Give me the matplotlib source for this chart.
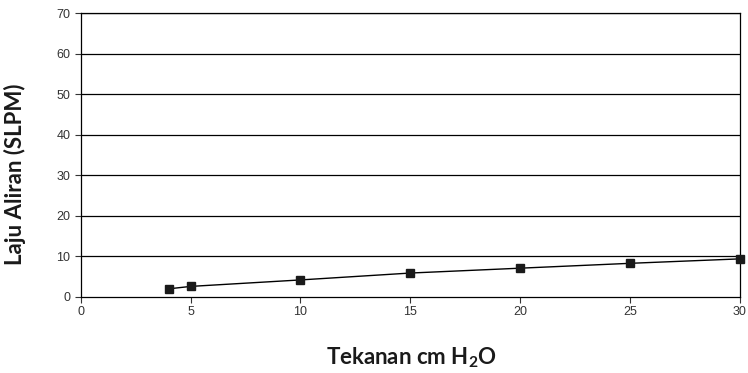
import matplotlib
matplotlib.use('Agg')
import matplotlib.pyplot as plt

# values
tekanan = [4, 5, 10, 15, 20, 25, 30]
laju = [1.9, 2.5, 4.1, 5.8, 7.0, 8.2, 9.3]
x_ticks = [0, 5, 10, 15, 20, 25, 30]
y_ticks = [0, 10, 20, 30, 40, 50, 60, 70]

plt.rcParams['font.family'] = ['Liberation Sans', 'DejaVu Sans']
plt.rcParams['mathtext.fontset'] = 'custom'
plt.rcParams['mathtext.rm'] = 'Lato'
plt.rcParams['mathtext.bf'] = 'Lato:bold'

fig = plt.figure(figsize=(7.48, 3.73), dpi=100)
ax = fig.add_axes([0.108, 0.205, 0.881, 0.76])

for y in y_ticks[1:]:
    ax.axhline(y, color='black', lw=0.9, zorder=1)

ax.plot(tekanan, laju, color='black', lw=1.0, marker='s', markersize=5.5,
        markerfacecolor='#1a1a1a', markeredgecolor='#1a1a1a', zorder=3, clip_on=False)

ax.set_xlim(0, 30)
ax.set_ylim(0, 70)
ax.set_xticks(x_ticks)
ax.set_yticks(y_ticks)
ax.tick_params(labelsize=9, colors='#333333', length=4, width=0.8)
ax.tick_params(axis='x', pad=3)

for s in ax.spines.values():
    s.set_linewidth(0.9)
    s.set_color('black')

fig.text(0.020, 0.534, 'Laju Aliran (SLPM)', fontsize=16, fontweight='bold',
         family='Lato', color='#1a1a1a', rotation=90, ha='center', va='center')
fig.text(0.550, 0.022, r'Tekanan cm H$_\mathbf{2}$O', fontsize=16, fontweight='bold',
         family='Lato', color='#1a1a1a', ha='center', va='baseline')

fig.savefig('out.png', dpi=100)
